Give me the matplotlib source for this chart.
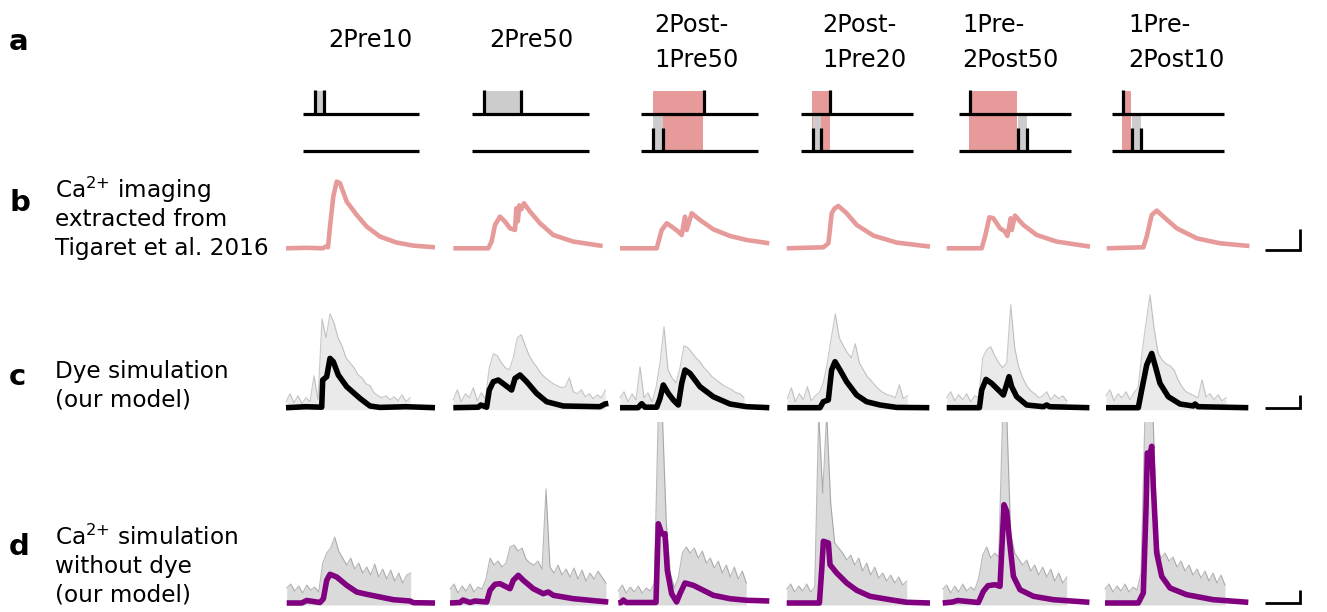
import matplotlib.pyplot as plt
import numpy as np

plt.rcParams['font.family'] = 'DejaVu Sans'

W, H = 1327, 612

# ---- row a: stimulation protocols (times in ms along each line) ----
protocols = ["2Pre10", "2Pre50", "2Post-\n1Pre50", "2Post-\n1Pre20", "1Pre-\n2Post50", "1Pre-\n2Post10"]
stim_len = [116, 117, 117, 112, 112, 112]
pre_spikes = [[12.4, 21.0], [12.3, 49.3], [62.6], [29.0], [11.0], [11.0]]
post_spikes = [[], [], [11.7, 21.6], [11.6, 20.3], [59.0, 68.0], [20.0, 29.0]]
pink_win = [None, None, (11.6, 62.0), (11.5, 28.6), (10.3, 58.0), (10.0, 19.0)]

# ---- row b: Ca imaging (Tigaret et al. 2016) ----
img_t = [
    [0, 20, 37, 40, 42, 44, 47.3, 50.7, 54, 60.7, 70.7, 80.7, 94, 110.7, 127.3, 149],
    [0, 35, 38.3, 41.7, 46.7, 51.7, 56.7, 61.7, 63, 64.5, 66, 68, 70.7, 76.7, 86.7, 100, 120, 149.3],
    [0, 36.7, 41.7, 46.7, 51.7, 58.3, 61.7, 65, 66.7, 71.7, 80, 93.3, 110, 126.7, 149.3],
    [0, 36.7, 41.7, 45, 48, 51.7, 60, 70, 86.7, 110, 143.3],
    [0, 35, 38.3, 42.7, 46.7, 53.3, 58.3, 60.7, 64, 65, 68.3, 76.7, 90, 110, 143.3],
    [0, 36.7, 40, 45, 50, 56.7, 70, 90, 113.3, 142.7],
]
img_y = [
    [0, 0.5, 0, 2, 1, 21.7, 51.7, 66.7, 65, 46.7, 33.3, 21.7, 11.7, 5.7, 2.7, 1],
    [0, 0, 6.7, 23.3, 31.7, 26.7, 20, 18.3, 40, 27, 43, 39, 45, 36.7, 25, 13.3, 6.7, 2.3],
    [0, 0, 18.3, 25, 21.7, 16.7, 13.3, 31.7, 18.3, 35, 28.3, 19, 12.3, 8.3, 5],
    [0, 1, 5, 35, 40, 42.3, 35, 23.3, 12.7, 5.7, 1.7],
    [0, 0, 11.7, 31, 30, 20, 16.7, 12.3, 30, 18.3, 32.7, 23.3, 13.3, 6.7, 1.7],
    [0, 1, 11.7, 33.3, 37.7, 31.7, 20, 10, 5, 2.3],
]

# ---- row c: dye simulation, mean trace + envelope of single trials (every 4 ms) ----
dye_t = [
    [0, 20, 35.7, 36.7, 40.7, 44, 47.3, 52.3, 60.7, 74, 84, 94, 120, 149],
    [0, 25, 27.5, 33.3, 36, 40, 45, 51.7, 58.3, 61.7, 66.7, 73.3, 83.3, 93.3, 110, 146.7, 151.7, 155],
    [0, 18, 21.7, 25, 36.7, 40, 43.3, 48.3, 53.3, 58.3, 61.7, 65, 70, 80, 93.3, 110, 126.7, 149.3],
    [0, 32.7, 36, 41, 44.3, 47.7, 52.7, 59.3, 69.3, 79.3, 92.7, 109.3, 142],
    [0, 32.7, 35, 39.3, 45, 51.7, 56.7, 59.3, 62.3, 65, 70, 80, 96.7, 100, 103, 142.7],
    [0, 32.3, 35.7, 40.7, 45.7, 49, 54, 62.3, 74, 87.3, 89, 92, 142.3],
]
dye_y = [
    [0, 1, 0.5, 27.7, 31, 49.3, 46, 32.7, 21, 9.3, 1.7, 0.3, 1, 0],
    [0, 0.5, 2.7, 0.5, 17.7, 26, 27.7, 22.7, 17.7, 29.3, 32.7, 26, 14.3, 6, 1.7, 1, 3.7, 4.3],
    [0, 0, 4, 0.5, 0.5, 9.3, 22.7, 14.3, 7.7, 2.7, 24.3, 37.7, 34.3, 21, 11, 3.7, 1, 0],
    [0, 0, 6, 7.7, 37.7, 46, 37.7, 26, 12.7, 6, 2.7, 0.3, 0],
    [0, 0, 17.7, 28.3, 24.3, 17.7, 12.7, 21, 31, 21, 11, 2.7, 1, 2.7, 1, 0],
    [0, 0, 17.7, 42.7, 54.3, 42.7, 24.3, 11, 3.7, 1.7, 3.7, 1, 0],
]
dye_env = [
    [6, 14, 5, 12, 4, 10, 6, 32, 8, 89, 70, 94, 85, 70, 62, 50, 45, 40, 33, 30, 24, 22, 15, 12, 10, 12, 8, 11, 7, 13, 6, 10],
    [8, 18, 6, 14, 10, 20, 7, 15, 9, 40, 54, 52, 45, 40, 38, 50, 70, 73, 62, 52, 45, 40, 34, 30, 27, 24, 22, 20, 21, 30,
     16, 14, 18, 11, 14, 9, 13, 10, 18],
    [10, 16, 6, 14, 8, 41, 10, 15, 6, 20, 45, 81, 38, 30, 25, 40, 62, 60, 55, 50, 46, 40, 36, 31, 28, 25, 22, 20, 18, 15, 14, 10],
    [9, 20, 6, 14, 8, 21, 7, 12, 15, 25, 45, 70, 94, 70, 62, 55, 50, 64, 45, 38, 31, 27, 22, 18, 15, 13, 12, 10, 23, 9, 12],
    [10, 16, 7, 13, 8, 14, 6, 12, 10, 50, 58, 61, 52, 45, 40, 45, 103, 60, 41, 30, 22, 17, 14, 10, 12, 16, 8, 13, 9, 12, 7],
    [12, 18, 7, 14, 10, 16, 8, 15, 20, 55, 85, 113, 80, 55, 48, 44, 42, 38, 28, 21, 16, 14, 12, 10, 28, 11, 14, 8, 13, 7, 10],
]

# ---- row d: Ca simulation without dye ----
free_t = [
    [0, 15, 20, 33.3, 36.7, 40, 43.3, 50, 60, 70, 80, 93.3, 106.7, 123.3, 126.7, 148.3],
    [0, 10, 13, 20, 25, 36.7, 40, 45, 50, 60, 63.3, 68.3, 73.3, 83.3, 93.3, 98.3, 103.3, 123.3, 140, 158.3],
    [0, 3, 5, 8, 37.7, 40, 41.5, 43.3, 46.7, 49, 53.3, 58.3, 61.7, 66.7, 75, 85, 95, 111.7, 128.3, 151],
    [0, 32.7, 35, 36.7, 41.7, 43.3, 50, 60, 70, 83.3, 103.3, 120, 143.3],
    [0, 10, 15, 35.7, 40.7, 45.3, 52.3, 57.3, 61.3, 64, 66.7, 70.7, 77.3, 90.7, 110.7, 146.7],
    [0, 33.3, 38.3, 41, 42.3, 45, 46.7, 48.3, 51.7, 56.7, 65, 81.7, 108.3, 143.3],
]
free_y = [
    [0, 0, 2.5, 0.5, 4.3, 22.7, 28.7, 26, 17.7, 11, 8.7, 6, 3.3, 2, 0.3, 0],
    [0, 0.5, 3, 0.5, 2, 1, 12.7, 18.7, 19.3, 14.3, 22.7, 27.7, 22.7, 14.3, 9.3, 11, 7.7, 4.3, 2.7, 1],
    [0, 0.5, 3, 0.5, 0.5, 79.3, 75, 69.3, 69.3, 32.7, 9.3, 1, 9.3, 20, 17.7, 12.7, 7.7, 4.3, 2.7, 2],
    [0, 0, 33.3, 61.7, 60, 38.3, 30, 20, 12.7, 6.7, 3.3, 0.7, 0],
    [0, 1, 2.5, 0.5, 11.7, 17.3, 18.3, 16.7, 98.3, 91.7, 63.3, 26.7, 13.3, 6.7, 3.3, 0.7],
    [0, 0, 10, 93.3, 150, 148.3, 156.7, 116.7, 50, 26.7, 15, 8.3, 3.3, 0.7],
]
free_env = [
    [15, 19, 12, 17, 10, 18, 13, 16, 11, 40, 50, 55, 66, 52, 45, 38, 45, 34, 40, 30, 36, 28, 39, 26, 34, 24, 33, 22, 30, 20, 28, 30],
    [14, 19, 10, 17, 12, 19, 11, 16, 14, 24, 45, 38, 42, 36, 40, 56, 58, 52, 55, 44, 40, 38, 42, 34, 114, 36, 30, 38, 28, 34,
     26, 35, 24, 33, 22, 30, 24, 32, 26, 20],
    [12, 18, 10, 16, 11, 17, 10, 15, 12, 20, 190, 190, 80, 30, 15, 25, 50, 56, 50, 55, 45, 52, 40, 45, 35, 42, 30, 38, 26, 36,
     24, 32, 20],
    [14, 19, 11, 17, 12, 19, 11, 16, 190, 110, 190, 100, 60, 55, 50, 43, 48, 38, 45, 32, 40, 28, 36, 25, 30, 22, 28, 20, 26, 18, 22],
    [14, 18, 10, 17, 11, 19, 12, 16, 13, 25, 48, 56, 45, 50, 46, 190, 190, 70, 50, 44, 38, 43, 32, 38, 28, 36, 26, 34, 22, 30, 20, 26],
    [14, 19, 11, 17, 12, 19, 11, 16, 13, 30, 190, 190, 190, 60, 45, 50, 42, 46, 36, 42, 32, 38, 28, 34, 25, 32, 22, 30, 20, 28, 18],
]
env_step = 4

row_labels = ["Ca$^{2{+}}$ imaging\nextracted from\nTigaret et al. 2016",
              "Dye simulation\n(our model)",
              "Ca$^{2{+}}$ simulation\nwithout dye\n(our model)"]
panel_letters = ["a", "b", "c", "d"]
bar_t = 35
bar_amp = [21, 13, 13]

pink = '#e69a9a'
purple = '#800080'

fig = plt.figure(figsize=(W / 100, H / 100), dpi=100)


def px_axes(left, top, width, height):
    ax = fig.add_axes([left / W, 1 - (top + height) / H, width / W, height / H])
    ax.axis('off')
    return ax


# titles
title_x = [370, 531, 654, 822, 962, 1128]
for i, name in enumerate(protocols):
    lines = name.split("\n")
    if len(lines) == 1:
        fig.text(title_x[i] / W, 1 - 47 / H, lines[0], ha='center', va='baseline', fontsize=17.3)
    else:
        for k, ln in enumerate(lines):
            fig.text(title_x[i] / W, 1 - (31.7 + 35 * k) / H, ln, ha='left', va='baseline', fontsize=17.3)

# stimulation diagrams
stim_left = [303, 472, 641, 801, 959, 1112]
for i in range(6):
    ax = px_axes(stim_left[i], 86, stim_len[i], 69)
    ax.set_xlim(0, stim_len[i])
    ax.set_ylim(-0.108, 1.757)
    if pink_win[i] is not None:
        ax.fill_between(pink_win[i], 0, 1.63, color=pink, lw=0, zorder=1)
    if len(pre_spikes[i]) == 2:
        ax.fill_between(pre_spikes[i], 1, 1.63, color='#cccccc', lw=0, zorder=2)
    if len(post_spikes[i]) == 2:
        ax.fill_between(post_spikes[i], 0, 1, color='#cccccc', lw=0, zorder=2)
    for yl in (0, 1):
        ax.plot([0, stim_len[i]], [yl, yl], color='k', lw=2.3, solid_capstyle='butt', clip_on=False, zorder=3)
    ax.vlines(pre_spikes[i], 1, 1.65, color='k', lw=2.3, zorder=3)
    if post_spikes[i]:
        ax.vlines(post_spikes[i], 0, 0.62, color='k', lw=2.3, zorder=3)

# trace rows
row_base = [248.3, 407.7, 603.0]
row_top = [172, 288, 422]
row_bot = [256, 414, 610]
row_x0 = [
    [286, 453.3, 620, 786.7, 946.7, 1106.7],
    [286, 453.3, 620, 787.3, 946.7, 1106],
    [286.7, 450, 618.3, 786.7, 942.7, 1105],
]
row_t = [img_t, dye_t, free_t]
row_y = [img_y, dye_y, free_y]
row_env = [None, dye_env, free_env]
row_color = [pink, 'k', purple]
row_lw = [3.3, 4.0, 4.0]
haze_alpha = [0, 0.12, 0.22]
edge_alpha = [0, 0.35, 0.45]

for r in range(3):
    ylo = -(row_bot[r] - row_base[r])
    yhi = row_base[r] - row_top[r]
    for i in range(6):
        ax = px_axes(row_x0[r][i] - 8, row_top[r], 172, row_bot[r] - row_top[r])
        ax.set_xlim(-8, 164)
        ax.set_ylim(ylo, yhi)
        if row_env[r] is not None:
            env = np.array(row_env[r][i], dtype=float)
            te = np.arange(len(env)) * env_step
            ax.fill_between(te, -2, env, color='0.35', alpha=haze_alpha[r], lw=0, zorder=1)
            ax.plot(te, env, color='0.4', alpha=edge_alpha[r], lw=0.8, zorder=2)
        ax.plot(row_t[r][i], row_y[r][i], color=row_color[r], lw=row_lw[r],
                solid_joinstyle='round', solid_capstyle='butt', zorder=3)

# scale bars
bar_base = [250, 407.5, 602.5]
for r in range(3):
    ax = px_axes(1265, bar_base[r] - bar_amp[r], bar_t, bar_amp[r])
    ax.set_xlim(0, bar_t)
    ax.set_ylim(0, bar_amp[r])
    ax.plot([0, bar_t, bar_t], [0, 0, bar_amp[r]], color='k', lw=2, clip_on=False,
            solid_capstyle='butt', solid_joinstyle='miter')

# row labels
label_y0 = [198, 378.3, 545]
for r, lab in enumerate(row_labels):
    for k, ln in enumerate(lab.split("\n")):
        fig.text(55 / W, 1 - (label_y0[r] + 28.4 * k) / H, ln, ha='left', va='baseline', fontsize=16.7)

letter_y = [50, 210.7, 385, 555]
for L, yb in zip(panel_letters, letter_y):
    fig.text(9 / W, 1 - yb / H, L, ha='left', va='baseline', fontsize=21, fontweight='bold')

fig.savefig('out.png', dpi=100)
